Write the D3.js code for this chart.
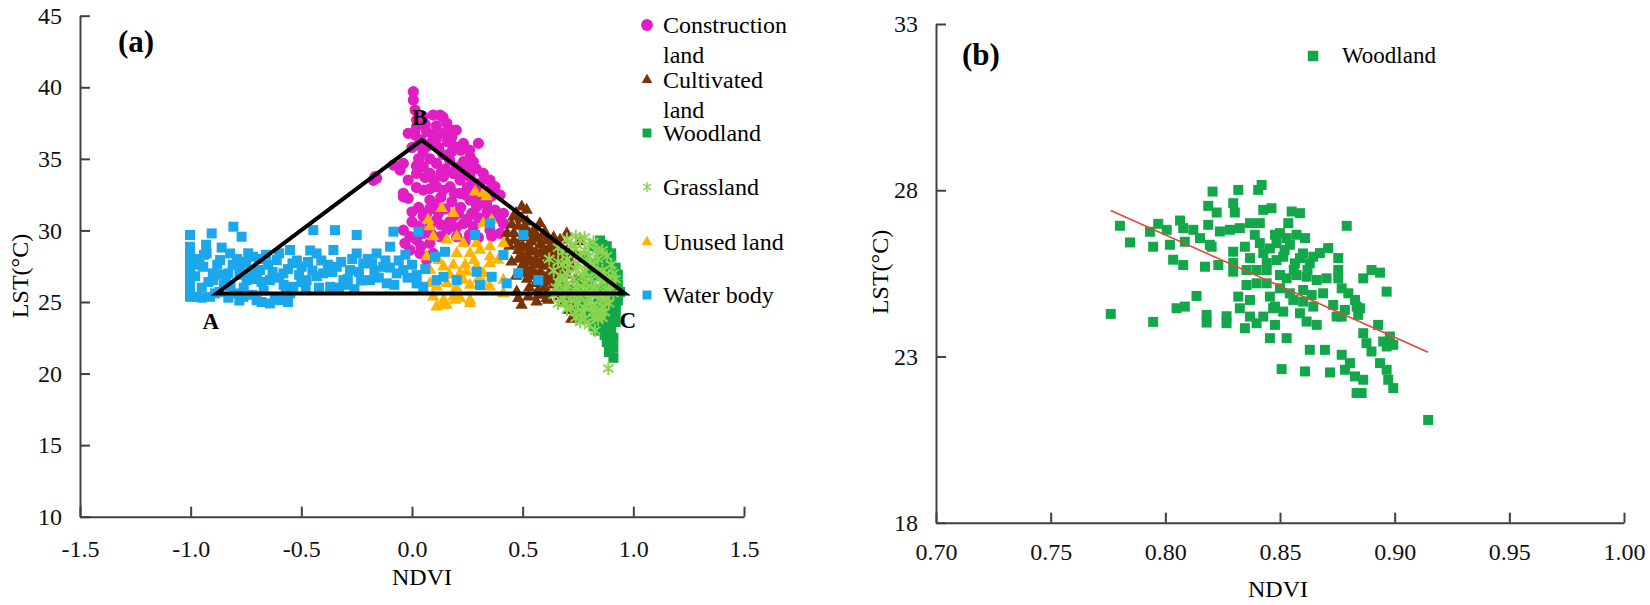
<!DOCTYPE html>
<html><head><meta charset="utf-8">
<script src="https://cdn.jsdelivr.net/npm/d3@7"></script>
<style>
body{margin:0;background:#fff}
svg{display:block}
svg text{font-family:"Liberation Serif","Times New Roman",serif !important;}
</style>
</head><body>
<svg id="chart" width="1650" height="605"></svg>
<script>
// ---------- Panel (a) data: [NDVI, LST] ----------
const constructionLand = [[0.006,39.69],[0.006,39.11],[0.014,38.41],[0.021,37.71],[-0.017,36.78],[0.014,36.66],[0.051,37.94],[0.096,38.06],[0.127,38.06],[0.157,37.48],[0.179,37.01],[0.142,36.78],[0.066,36.9],[0.096,36.66],[0.232,36.08],[0.300,36.08],[0.194,35.85],[0.179,35.5],[0.262,35.15],[0.277,34.8],[0.232,34.8],[0.322,33.98],[0.352,33.52],[0.375,33.05],[0.398,32.47],[-0.167,33.75],[-0.175,33.5],[-0.039,34.68],[-0.054,34.22],[-0.017,33.52],[0.021,33.98],[0.051,34.45],[0.081,33.98],[0.111,34.68],[0.142,33.75],[0.187,33.98],[0.217,33.52],[0.262,33.75],[0.307,33.29],[0.352,32.82],[-0.039,32.59],[-0.017,32.24],[0.051,32.82],[0.081,32.12],[0.111,33.05],[0.172,33.05],[0.217,32.59],[0.262,32.12],[0.292,31.65],[0.337,31.89],[0.375,31.42],[0.413,31.19],[0.413,30.49],[0.066,31.19],[0.111,30.72],[0.187,30.95],[0.232,30.49],[0.277,30.26],[0.337,30.72],[0.352,30.02],[0.398,29.79],[-0.039,30.02],[-0.009,29.56],[-0.032,29.1],[0.021,29.33],[0.051,29.79],[0.081,29.1],[0.127,29.56],[0.157,30.02],[0.202,29.56],[-0.009,28.63],[0.036,28.39],[0.066,27.93],[0.096,28.39],[-0.084,34.57],[-0.16,33.64],[-0.039,32.35],[0.05,35.5],[0.08,35.0],[0.12,35.8],[0.15,34.3],[0.2,34.4],[0.25,33.0],[0.3,32.6],[0.1,33.5],[0.03,35.0],[0.0,35.8],[0.04,36.3],[0.09,36.2],[0.13,32.3],[0.18,32.0],[0.22,31.6],[0.27,31.2],[0.15,31.5],[0.1,31.8],[0.05,31.0],[0.0,31.3],[0.0,30.6],[0.32,32.3],[0.24,34.0],[0.16,36.2],[0.2,37.0],[0.02,37.2],[0.06,37.4],[0.11,37.3],[0.14,37.9],[0.03,36.0],[0.07,35.9],[0.11,36.4],[0.14,35.3],[0.18,36.5],[0.22,35.6],[0.26,35.6],[0.29,34.3],[0.33,33.6],[0.36,33.1],[0.02,34.5],[0.06,33.7],[0.13,34.0],[0.17,34.9],[0.21,34.0],[0.25,34.4],[0.28,33.3],[0.02,33.0],[0.08,32.9],[0.14,32.8],[0.19,32.6],[0.24,32.5],[0.28,32.4],[0.31,31.9],[0.36,32.4],[0.03,31.6],[0.08,31.5],[0.12,31.2],[0.17,30.6],[0.21,31.2],[0.25,30.8],[0.3,30.9],[0.34,31.3],[0.39,30.9],[0.03,30.3],[0.08,30.3],[0.13,30.4],[0.2,30.2],[0.26,29.7],[0.3,29.5],[0.36,29.6],[0.09,29.7],[0.04,28.9],[0.24,29.2]];

const cultivatedLand = [[0.496,31.65],[0.458,30.95],[0.518,31.42],[0.578,30.49],[0.699,29.79],[0.669,29.33],[0.759,29.21],[0.48,30.3],[0.52,30.6],[0.55,30.0],[0.6,29.9],[0.64,29.5],[0.46,29.8],[0.5,29.5],[0.54,29.2],[0.58,29.0],[0.62,28.8],[0.66,28.6],[0.7,28.6],[0.74,28.3],[0.44,28.9],[0.43,29.8],[0.48,28.6],[0.52,28.3],[0.56,28.0],[0.6,28.2],[0.64,27.8],[0.68,27.9],[0.72,27.5],[0.45,27.8],[0.5,27.6],[0.54,27.3],[0.58,27.1],[0.62,27.0],[0.66,26.8],[0.7,26.9],[0.74,26.6],[0.47,26.8],[0.52,26.6],[0.56,26.3],[0.6,26.0],[0.64,26.2],[0.68,25.9],[0.72,25.8],[0.76,25.6],[0.495,24.78],[0.563,25.0],[0.571,25.48],[0.616,25.13],[0.684,24.9],[0.722,24.43],[0.744,23.85],[0.699,25.6],[0.473,25.71],[0.48,25.25],[0.526,25.36],[0.608,25.25],[0.691,25.13],[0.706,24.43],[0.736,23.97],[0.43,29.2],[0.45,30.4],[0.47,31.2],[0.49,30.8],[0.51,30.2],[0.53,29.8],[0.55,29.6],[0.57,29.4],[0.59,29.6],[0.61,29.3],[0.63,29.0],[0.65,29.1],[0.67,28.9],[0.69,28.2],[0.71,28.0],[0.46,29.3],[0.48,29.0],[0.5,28.9],[0.52,28.8],[0.54,28.6],[0.56,28.5],[0.58,28.4],[0.6,28.6],[0.62,28.3],[0.64,28.4],[0.66,28.1],[0.48,28.0],[0.5,28.2],[0.52,27.9],[0.54,27.8],[0.56,27.6],[0.58,27.7],[0.6,27.5],[0.62,27.6],[0.64,27.3],[0.66,27.4],[0.68,27.1],[0.7,27.4],[0.5,27.0],[0.52,27.2],[0.54,26.8],[0.56,26.9],[0.58,26.5],[0.6,26.7],[0.62,26.4],[0.64,26.7],[0.66,26.2],[0.68,26.4],[0.7,26.0],[0.53,26.0],[0.57,25.8],[0.61,25.6],[0.65,25.7],[0.67,25.4],[0.71,25.3],[0.73,25.1],[0.75,24.7],[0.72,23.8],[0.735,24.6]];

const woodlandA = [[0.78,28.2],[0.82,28.9],[0.85,29.3],[0.87,28.6],[0.88,27.8],[0.9,27.2],[0.91,26.5],[0.92,25.9],[0.93,25.5],[0.86,27.5],[0.84,26.8],[0.8,27.0],[0.76,26.5],[0.74,25.8],[0.78,25.5],[0.82,25.8],[0.86,25.9],[0.9,25.6],[0.77,24.8],[0.8,24.5],[0.84,24.9],[0.88,24.8],[0.92,24.9],[0.79,23.8],[0.83,24.0],[0.86,23.6],[0.9,24.1],[0.92,23.6],[0.84,23.0],[0.87,22.7],[0.9,23.0],[0.88,22.2],[0.91,22.5],[0.89,21.8],[0.91,21.1],[0.92,24.3],[0.86,24.5],[0.82,23.3],[0.75,24.2],[0.8,26.2],[0.88,26.2],[0.93,26.9],[0.9,28.4],[0.85,28.2],[0.83,27.7],[0.86,29.0],[0.88,28.9],[0.9,28.0],[0.92,27.4],[0.93,26.2],[0.94,25.7],[0.93,25.1],[0.92,24.5],[0.91,23.9],[0.9,23.4],[0.89,22.9],[0.9,22.4],[0.89,21.5],[0.91,21.8],[0.88,23.3],[0.85,23.6],[0.83,24.4],[0.81,24.1],[0.78,24.9],[0.76,25.1],[0.87,24.1],[0.89,24.5],[0.91,25.2],[0.9,26.8]];

const grassland = [[0.62,28.0],[0.66,28.8],[0.7,29.4],[0.74,29.6],[0.78,29.5],[0.8,29.0],[0.83,28.6],[0.72,28.5],[0.76,28.2],[0.68,27.6],[0.7,27.0],[0.74,27.3],[0.78,27.1],[0.82,27.6],[0.86,27.2],[0.66,26.4],[0.7,26.2],[0.74,26.0],[0.78,26.3],[0.82,26.0],[0.86,26.4],[0.9,26.2],[0.64,25.5],[0.68,25.3],[0.72,25.1],[0.76,25.4],[0.8,25.2],[0.84,25.5],[0.88,25.3],[0.7,24.5],[0.74,24.3],[0.78,24.6],[0.82,24.3],[0.86,24.7],[0.76,23.6],[0.8,23.4],[0.827,23.0],[0.84,23.8],[0.887,20.36],[0.64,27.2],[0.66,27.8],[0.68,28.5],[0.7,28.0],[0.72,29.0],[0.74,28.7],[0.76,29.3],[0.78,28.6],[0.8,28.2],[0.82,29.2],[0.84,28.0],[0.86,28.6],[0.88,28.2],[0.9,27.6],[0.91,27.0],[0.65,26.0],[0.67,26.8],[0.69,26.6],[0.71,27.6],[0.73,26.6],[0.75,27.7],[0.77,26.8],[0.79,27.6],[0.81,26.6],[0.83,27.1],[0.85,26.7],[0.87,26.9],[0.89,26.6],[0.92,26.6],[0.67,25.7],[0.69,25.9],[0.71,25.6],[0.73,25.5],[0.75,25.9],[0.77,25.7],[0.79,25.9],[0.81,25.6],[0.83,25.9],[0.85,25.2],[0.87,25.7],[0.89,25.8],[0.91,25.6],[0.66,24.9],[0.69,24.9],[0.72,24.6],[0.75,24.9],[0.77,24.2],[0.79,24.9],[0.81,24.7],[0.83,24.6],[0.85,24.2],[0.87,24.3],[0.89,24.9],[0.74,23.9],[0.78,23.8],[0.82,23.9],[0.86,23.9]];

const unusedLand = [[0.285,32.7],[0.322,32.59],[0.337,32.36],[0.134,31.54],[0.187,31.19],[0.073,30.72],[0.081,30.26],[0.322,30.49],[0.36,30.72],[0.096,29.56],[0.157,29.33],[0.202,29.56],[0.232,29.1],[0.292,29.1],[0.352,28.86],[0.413,29.1],[0.066,28.16],[0.202,28.39],[0.262,28.39],[0.307,28.63],[0.352,28.16],[0.081,27.23],[0.142,27.46],[0.187,27.58],[0.217,27.0],[0.247,27.11],[0.292,27.46],[0.322,27.0],[0.352,27.69],[0.39,27.93],[0.081,26.3],[0.111,26.06],[0.157,26.3],[0.232,26.53],[0.262,26.18],[0.322,26.3],[0.352,26.06],[0.413,26.53],[0.096,25.36],[0.142,25.13],[0.187,25.36],[0.217,25.25],[0.262,25.13],[0.413,25.6],[0.157,24.78],[0.194,25.13],[0.262,24.9],[0.111,24.66],[0.142,24.78],[0.12,27.9],[0.17,26.9],[0.2,26.0],[0.28,27.9],[0.3,26.6],[0.24,27.6]];

const waterBody = [[-1.003,29.68],[-1.003,28.86],[-1.003,28.39],[-1.003,27.93],[-1.003,27.46],[-1.003,27.0],[-1.003,26.53],[-1.003,26.06],[-1.003,25.6],[-1.003,25.36],[-0.973,25.36],[-0.928,28.39],[-0.943,27.46],[-0.898,26.53],[-0.913,25.36],[-0.905,29.79],[-0.867,27.93],[-0.83,27.0],[-0.822,28.39],[-0.807,30.26],[-0.77,29.56],[-0.777,27.46],[-0.747,26.53],[-0.717,28.16],[-0.687,27.23],[-0.642,26.53],[-0.611,27.93],[-0.581,27.0],[-0.551,28.63],[-0.536,26.06],[-0.498,27.46],[-0.476,26.53],[-0.446,30.02],[-0.431,28.39],[-0.401,27.0],[-0.37,26.06],[-0.355,28.63],[-0.348,30.02],[-0.34,27.46],[-0.31,26.53],[-0.28,27.23],[-0.25,29.68],[-0.25,28.39],[-0.22,27.69],[-0.19,26.53],[-0.16,28.39],[-0.13,27.46],[-0.099,28.86],[-0.114,26.3],[-0.069,27.0],[-0.084,29.91],[-0.039,27.23],[0.029,29.91],[0.021,26.88],[0.021,26.3],[0.051,26.06],[-0.762,25.36],[-0.702,25.13],[-0.642,24.9],[-0.596,25.13],[0.104,28.16],[0.149,28.51],[0.111,26.53],[0.142,26.76],[0.202,26.53],[0.285,29.68],[0.292,27.11],[0.307,26.18],[0.352,30.49],[0.36,26.76],[0.413,28.28],[0.428,26.3],[0.48,27.0],[0.503,29.68],[0.571,26.53],[-0.95,26.0],[-0.9,27.0],[-0.85,26.2],[-0.8,25.6],[-0.75,27.8],[-0.72,25.5],[-0.68,26.4],[-0.65,27.6],[-0.62,25.3],[-0.58,26.2],[-0.55,25.6],[-0.52,27.9],[-0.48,25.9],[-0.45,27.2],[-0.42,26.0],[-0.38,27.6],[-0.33,26.0],[-0.29,26.6],[-0.26,25.9],[-0.23,26.5],[-0.2,28.0],[-0.17,27.2],[-0.12,27.9],[-0.08,26.2],[-0.03,28.3],[0.0,27.6],[0.06,27.3],[-0.97,28.0],[-0.93,29.0],[-0.86,28.8],[-0.84,26.8],[-0.79,28.0],[-0.74,28.4],[-0.7,27.0],[-0.66,28.3],[-0.6,28.4],[-0.56,27.3],[-0.5,26.4],[-0.46,28.6],[-0.98,26.8],[-0.96,27.6],[-0.94,28.3],[-0.92,26.4],[-0.88,27.6],[-0.87,25.7],[-0.86,26.9],[-0.82,26.1],[-0.81,27.6],[-0.78,26.9],[-0.76,26.0],[-0.73,27.2],[-0.71,26.6],[-0.69,28.0],[-0.67,25.8],[-0.63,27.1],[-0.6,26.7],[-0.57,25.9],[-0.54,27.7],[-0.51,26.9],[-0.47,27.8],[-0.43,26.8],[-0.41,27.9],[-0.36,27.1],[-0.32,27.8],[-0.3,26.2],[-0.27,28.0],[-0.24,27.1],[-0.18,27.7],[-0.15,26.7],[-0.1,27.4],[-0.06,27.9],[-0.02,26.7],[-0.95,25.3],[-0.89,25.6],[-0.83,25.3],[-0.78,25.1],[-0.68,25.0],[-0.56,25.0]];

const triangleABC = [[-0.882,25.6],[0.044,36.31],[0.962,25.6]];
const vertexNames = ["A","B","C"];

const seriesNames = ["Construction land","Cultivated land","Woodland","Grassland","Unused land","Water body"];
const xTicksA = [-1.5,-1.0,-0.5,0.0,0.5,1.0,1.5];
const yTicksA = [10,15,20,25,30,35,40,45];

// ---------- Panel (b) data: woodland [NDVI, LST] ----------
const woodlandB = [[0.7762,24.28],[0.7802,26.93],[0.7846,26.43],[0.7933,26.75],[0.7947,26.30],[0.7947,24.04],[0.7969,26.99],[0.8006,26.81],[0.8020,26.36],[0.8034,25.91],[0.8049,24.45],[0.8064,27.09],[0.8078,26.86],[0.8078,25.75],[0.8085,26.45],[0.8085,24.50],[0.8122,26.81],[0.8136,24.82],[0.8151,26.56],[0.8173,25.70],[0.8187,26.96],[0.8187,27.53],[0.8194,26.36],[0.8206,27.96],[0.8224,27.33],[0.8231,25.75],[0.8238,26.76],[0.8180,24.25],[0.8180,24.02],[0.8267,24.21],[0.8267,24.00],[0.8282,26.81],[0.8296,27.61],[0.8303,27.33],[0.8318,28.01],[0.8325,26.86],[0.8369,27.01],[0.8405,28.01],[0.8420,28.16],[0.8412,27.01],[0.8427,27.41],[0.8463,27.46],[0.8551,27.36],[0.8587,27.31],[0.8536,27.01],[0.8791,26.93],[0.8500,26.71],[0.8529,26.56],[0.8572,26.66],[0.8609,26.56],[0.8202,26.30],[0.8296,26.15],[0.8347,26.30],[0.8412,26.41],[0.8485,26.41],[0.8296,25.81],[0.8369,25.96],[0.8427,26.11],[0.8442,25.81],[0.8485,25.90],[0.8514,26.00],[0.8587,25.96],[0.8645,26.00],[0.8674,26.11],[0.8710,26.26],[0.8754,25.96],[0.8296,25.55],[0.8354,25.60],[0.8398,25.60],[0.8442,25.60],[0.8500,25.45],[0.8529,25.35],[0.8572,25.45],[0.8616,25.40],[0.8660,25.30],[0.8703,25.35],[0.8863,25.35],[0.8899,25.60],[0.8936,25.52],[0.8965,24.95],[0.8754,25.60],[0.8754,25.35],[0.8769,25.05],[0.8798,24.90],[0.8827,24.70],[0.8849,24.45],[0.8841,24.25],[0.8354,25.15],[0.8398,25.20],[0.8442,25.20],[0.8500,25.05],[0.8543,24.90],[0.8601,25.00],[0.8638,24.85],[0.8688,24.90],[0.8318,24.80],[0.8325,24.45],[0.8369,24.70],[0.8369,24.20],[0.8347,23.85],[0.8398,24.00],[0.8427,24.20],[0.8456,24.80],[0.8478,24.50],[0.8514,24.35],[0.8478,23.95],[0.8456,23.55],[0.8529,23.55],[0.8558,24.70],[0.8601,24.65],[0.8587,24.30],[0.8616,24.05],[0.8660,23.95],[0.8645,24.50],[0.8732,24.55],[0.8769,24.20],[0.8783,24.40],[0.8928,23.95],[0.8863,23.70],[0.8877,23.40],[0.8899,23.15],[0.8950,23.45],[0.8994,23.35],[0.8979,23.60],[0.8936,22.80],[0.8965,22.60],[0.8630,23.20],[0.8696,23.20],[0.8507,22.62],[0.8609,22.55],[0.8718,22.52],[0.8769,23.05],[0.8805,22.80],[0.8827,22.40],[0.8783,22.60],[0.8863,22.30],[0.8972,22.30],[0.8994,22.05],[0.8834,21.90],[0.8856,21.90],[0.9146,21.09],[0.8470,24.45],[0.8747,24.20],[0.8834,24.50],[0.8965,23.30],[0.8456,26.25],[0.8543,26.36],[0.8565,25.80],[0.8630,25.80],[0.8478,26.66],[0.8390,26.66],[0.8520,26.20],[0.8600,26.10],[0.8560,25.60],[0.8620,25.60]];
const regressionB = [[0.7762,27.39],[0.9146,23.13]];
const xTicksB = [0.70,0.75,0.80,0.85,0.90,0.95,1.00];
const yTicksB = [18,23,28,33];

// ---------- drawing ----------
const FONT = '"Liberation Serif","Times New Roman",serif';
const AXIS = '#404040';
const colors = {
  construction: '#E01EC4', cultivated: '#7B3306', woodland: '#12A84A',
  grass: '#8CD450', unused: '#FFB400', water: '#1AA7EC'
};
const svg = d3.select('#chart').attr('font-family', FONT);

function styleAxis(g) {
  g.attr('font-family', FONT).attr('font-size', 24);
  g.select('.domain').attr('stroke', AXIS).attr('stroke-width', 2);
  g.selectAll('.tick line').attr('stroke', AXIS).attr('stroke-width', 2);
  g.selectAll('.tick text').attr('fill', '#111');
}
const asteriskPath = s => `M0,${-s}L0,${s}M${-s*0.8},${-s*0.6}L${s*0.8},${s*0.6}M${-s*0.8},${s*0.6}L${s*0.8},${-s*0.6}`;

// ===== Panel (a) =====
const xA = d3.scaleLinear().domain([-1.5, 1.5]).range([80, 744]);
const yA = d3.scaleLinear().domain([10, 45]).range([516.7, 15.7]);

svg.append('g').attr('transform', `translate(0,${yA(10)})`)
  .call(d3.axisBottom(xA).tickValues(xTicksA).tickFormat(d => d.toFixed(1)).tickSizeInner(-10).tickSizeOuter(0).tickPadding(23))
  .call(styleAxis);
svg.append('g').attr('transform', `translate(${xA(-1.5)},0)`)
  .call(d3.axisLeft(yA).tickValues(yTicksA).tickFormat(d => String(d)).tickSizeInner(-10).tickSizeOuter(0).tickPadding(18))
  .call(styleAxis);

const gA = svg.append('g');
const sym = (type, size) => d3.symbol().type(type).size(size)();
function plotSymbols(data, type, size, color) {
  gA.append('g').selectAll('path').data(data).join('path')
    .attr('transform', d => `translate(${xA(d[0])},${yA(d[1])})`)
    .attr('d', sym(type, size)).attr('fill', color);
}
plotSymbols(constructionLand, d3.symbolCircle, 100, colors.construction);
plotSymbols(cultivatedLand, d3.symbolTriangle, 68, colors.cultivated);
plotSymbols(woodlandA, d3.symbolSquare, 100, colors.woodland);
gA.append('g').selectAll('path').data(grassland).join('path')
  .attr('transform', d => `translate(${xA(d[0])},${yA(d[1])})`)
  .attr('d', asteriskPath(6.5)).attr('fill', 'none').attr('stroke', colors.grass).attr('stroke-width', 2);
plotSymbols(unusedLand, d3.symbolTriangle, 68, colors.unused);
plotSymbols(waterBody, d3.symbolSquare, 100, colors.water);

// triangle ABC
svg.append('path')
  .attr('d', d3.line().x(d => xA(d[0])).y(d => yA(d[1]))(triangleABC) + 'Z')
  .attr('fill', 'none').attr('stroke', '#000').attr('stroke-width', 4).attr('stroke-linejoin', 'miter');
const vOff = [[-6, 36], [-2, -15], [3, 35]];
svg.append('g').selectAll('text').data(triangleABC).join('text')
  .attr('x', (d, i) => xA(d[0]) + vOff[i][0]).attr('y', (d, i) => yA(d[1]) + vOff[i][1])
  .attr('text-anchor', 'middle').attr('font-size', 23).attr('font-weight', 'bold')
  .text((d, i) => vertexNames[i]);

svg.append('text').attr('x', 118).attr('y', 52).attr('font-size', 31).attr('font-weight', 'bold').text('(a)');
svg.append('text').attr('x', 422).attr('y', 585).attr('text-anchor', 'middle').attr('font-size', 24).text('NDVI');
svg.append('text').attr('transform', `translate(28,276) rotate(-90)`).attr('text-anchor', 'middle')
  .attr('font-size', 24).text('LST(°C)');

// legend (a)
const legA = svg.append('g');
const legY = [25, 80, 133, 187, 242, 295];
const legLines = [["Construction", "land"], ["Cultivated", "land"], ["Woodland"], ["Grassland"], ["Unused land"], ["Water body"]];
const legSym = [
  {d: sym(d3.symbolCircle, 110), c: colors.construction},
  {d: sym(d3.symbolTriangle, 50), c: colors.cultivated},
  {d: sym(d3.symbolSquare, 80), c: colors.woodland},
  {d: asteriskPath(5), c: colors.grass, stroke: true},
  {d: sym(d3.symbolTriangle, 50), c: colors.unused},
  {d: sym(d3.symbolSquare, 80), c: colors.water}
];
seriesNames.forEach((name, i) => {
  const s = legSym[i];
  const p = legA.append('path').attr('transform', `translate(647,${legY[i]})`).attr('d', s.d);
  if (s.stroke) p.attr('fill', 'none').attr('stroke', s.c).attr('stroke-width', 1.5); else p.attr('fill', s.c);
  const t = legA.append('text').attr('x', 663).attr('y', legY[i] + 8).attr('font-size', 24);
  legLines[i].forEach((ln, j) => t.append('tspan').attr('x', 663).attr('dy', j === 0 ? 0 : 30).text(ln));
});

// ===== Panel (b) =====
const xB = d3.scaleLinear().domain([0.70, 1.00]).range([936, 1624]);
const yB = d3.scaleLinear().domain([18, 33]).range([522.7, 24]);

svg.append('g').attr('transform', `translate(0,${yB(18)})`)
  .call(d3.axisBottom(xB).tickValues(xTicksB).tickFormat(d => d.toFixed(2)).tickSizeInner(-10).tickSizeOuter(0).tickPadding(20))
  .call(styleAxis);
svg.append('g').attr('transform', `translate(${xB(0.70)},0)`)
  .call(d3.axisLeft(yB).tickValues(yTicksB).tickFormat(d => String(d)).tickSizeInner(-10).tickSizeOuter(0).tickPadding(18))
  .call(styleAxis);

svg.append('g').selectAll('path').data(woodlandB).join('path')
  .attr('transform', d => `translate(${xB(d[0])},${yB(d[1])})`)
  .attr('d', sym(d3.symbolSquare, 100)).attr('fill', colors.woodland);

svg.append('path')
  .attr('d', d3.line().x(d => xB(d[0])).y(d => yB(d[1]))(regressionB))
  .attr('stroke', '#E8453C').attr('stroke-width', 1.6).attr('fill', 'none');

svg.append('text').attr('x', 962).attr('y', 65).attr('font-size', 31).attr('font-weight', 'bold').text('(b)');
svg.append('text').attr('x', 1278).attr('y', 597).attr('text-anchor', 'middle').attr('font-size', 24).text('NDVI');
svg.append('text').attr('transform', `translate(888,272) rotate(-90)`).attr('text-anchor', 'middle')
  .attr('font-size', 24).text('LST(°C)');
svg.append('path').attr('transform', 'translate(1313,56)').attr('d', sym(d3.symbolSquare, 110)).attr('fill', colors.woodland);
svg.append('text').attr('x', 1342).attr('y', 63).attr('font-size', 23).text('Woodland');
</script>
</body></html>
